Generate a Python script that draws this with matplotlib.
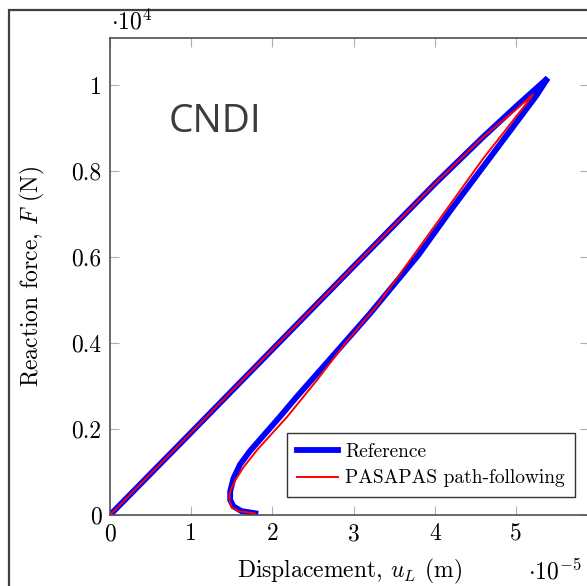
import matplotlib
matplotlib.use("Agg")
import matplotlib.pyplot as plt
from matplotlib.patches import Rectangle

plt.rcParams["font.family"] = "serif"
plt.rcParams["font.serif"] = ["cmr10", "DejaVu Serif"]
plt.rcParams["mathtext.fontset"] = "cm"
plt.rcParams["axes.unicode_minus"] = False

# displacement in 1e-5 m, force in 1e4 N
ref_u = [0.0, 1.0, 2.0, 3.0, 4.0, 4.6, 5.0, 5.39,
         5.25, 4.66, 4.2, 3.8, 3.2, 2.59, 2.3, 2.09, 1.9, 1.72, 1.6, 1.52, 1.48, 1.48, 1.52, 1.62, 1.79]
ref_F = [0.0, 0.192, 0.385, 0.578, 0.77, 0.88, 0.95, 1.016,
         0.975, 0.826, 0.71, 0.605, 0.468, 0.337, 0.275, 0.228, 0.187, 0.148, 0.117, 0.085, 0.055, 0.035, 0.02, 0.009, 0.004]

pas_u = [0.0, 1.0, 2.0, 3.0, 4.0, 4.6, 5.0, 5.21,
         5.12, 4.6, 4.2, 3.8, 3.3, 2.9, 2.55, 2.18, 1.81, 1.64, 1.54, 1.48, 1.47, 1.5, 1.58, 1.78]
pas_F = [0.0, 0.192, 0.385, 0.578, 0.77, 0.88, 0.943, 0.978,
         0.955, 0.83, 0.725, 0.62, 0.49, 0.40, 0.314, 0.228, 0.151, 0.11, 0.08, 0.055, 0.035, 0.018, 0.009, 0.004]

xticks = [0, 1, 2, 3, 4, 5]
yticks = [0, 0.2, 0.4, 0.6, 0.8, 1.0]
ytick_labels = ["0", "0.2", "0.4", "0.6", "0.8", "1"]

W, H = 587, 586
fig = plt.figure(figsize=(W / 100, H / 100), dpi=100)

# outer frame
fig.patches.append(Rectangle((9 / W, -0.1), 1.2, 1 - 10 / H + 0.1, transform=fig.transFigure,
                             fill=False, edgecolor="#404040", linewidth=1.6))

ax = fig.add_axes([110 / W, (H - 515) / H, 479 / W, 477 / H])
ax.plot(ref_u, ref_F, color="#0000ff", lw=4.2, solid_joinstyle="miter", label="Reference")
ax.plot(pas_u, pas_F, color="#ff0000", lw=1.4, label="PASAPAS path-following")

ax.set_xlim(0, 479 / 81.2)
ax.set_ylim(0, 477 / 430)
ax.set_xticks(xticks)
ax.set_xticklabels([str(t) for t in xticks])
ax.set_yticks(yticks)
ax.set_yticklabels(ytick_labels)
ax.tick_params(direction="in", length=6.5, width=0.8, color="#b0b0b0", labelsize=17,
               top=True, right=True, pad=6)
for s in ax.spines.values():
    s.set_color("#505050")
    s.set_linewidth(1.2)

ax.set_xlabel("Displacement, $u_L$ (m)", fontsize=17, labelpad=8)
ax.set_ylabel("Reaction force, $F$ (N)", fontsize=17, labelpad=18)

fig.text(215 / W, 1 - 122 / H, "CNDI", family="Open Sans", fontsize=28, color="#3c3c3c",
         ha="center", va="center")

fig.text(111 / W, 1 - 22 / H, r"$\cdot 10^{4}$", fontsize=17, ha="left", va="center")
fig.text(528 / W, 1 - 572 / H, r"$\cdot 10^{-5}$", fontsize=17, ha="left", va="center")

leg = ax.legend(loc="upper left", bbox_to_anchor=((287 - 110) / 479, (515 - 433) / 477),
                fontsize=14, frameon=True, fancybox=False, framealpha=1, edgecolor="#333333",
                handlelength=2.1, handletextpad=0.4, borderpad=0.5, labelspacing=0.45,
                borderaxespad=0)
leg.get_frame().set_linewidth(1.0)

fig.savefig("out.png", dpi=100)
